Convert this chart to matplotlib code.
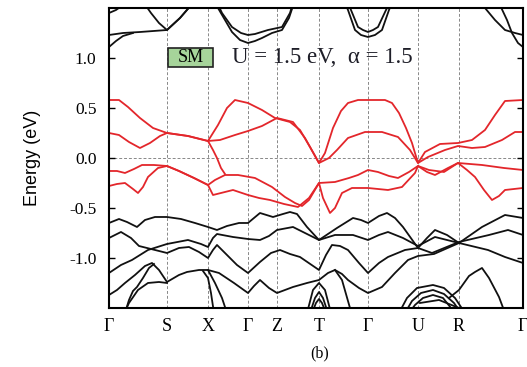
import matplotlib
matplotlib.use("Agg")
import matplotlib.pyplot as plt
from matplotlib.patches import Rectangle

plt.rcParams['axes.unicode_minus'] = False

# high-symmetry points along the k-path (path length, arbitrary units)
K_TICKS = [0, 58, 99, 139, 168, 210, 259, 309, 350, 414]
K_LABELS = ['Γ', 'S', 'X', 'Γ', 'Z', 'T', 'Γ', 'U', 'R', 'Γ']

# bands near the Fermi level (red) as (k, E[eV])
RED_1 = [(0, 0.58), (10, 0.58), (19, 0.51), (31, 0.40), (44, 0.30), (58, 0.25),
         (79, 0.22), (99, 0.17), (109, 0.33), (118, 0.50), (126, 0.58), (139, 0.55),
         (153, 0.48), (166, 0.40), (181, 0.36), (191, 0.28), (201, 0.11), (210, -0.05),
         (216, 0.05), (224, 0.30), (232, 0.47), (239, 0.55), (249, 0.58), (276, 0.58),
         (283, 0.55), (290, 0.45), (297, 0.30), (303, 0.15), (309, -0.05), (316, 0.06),
         (331, 0.14), (349, 0.15), (363, 0.18), (376, 0.28), (386, 0.43), (396, 0.57),
         (414, 0.58)]
RED_2 = [(0, 0.25), (10, 0.23), (20, 0.16), (31, 0.10), (41, 0.15), (51, 0.22), (58, 0.25),
         (79, 0.22), (99, 0.17), (111, 0.18), (126, 0.23), (139, 0.27), (153, 0.32),
         (168, 0.40), (184, 0.36), (196, 0.20), (210, -0.05), (220, 0.0), (228, 0.08),
         (239, 0.20), (256, 0.26), (273, 0.26), (289, 0.21), (301, 0.08), (309, -0.05),
         (319, 0.01), (336, 0.08), (349, 0.12), (363, 0.10), (376, 0.11), (393, 0.18),
         (406, 0.26), (414, 0.26)]
RED_3 = [(0, -0.13), (8, -0.13), (16, -0.15), (25, -0.11), (33, -0.07), (45, -0.07),
         (58, -0.08), (70, -0.13), (85, -0.20), (99, -0.27), (104, -0.37), (112, -0.35),
         (124, -0.32), (139, -0.37), (150, -0.40), (161, -0.42), (175, -0.46), (189, -0.49),
         (200, -0.40), (210, -0.25), (226, -0.24), (240, -0.20), (249, -0.17), (259, -0.12),
         (269, -0.14), (280, -0.18), (289, -0.20), (300, -0.14), (309, -0.08), (318, -0.14),
         (326, -0.17), (339, -0.10), (349, -0.05), (373, -0.07), (395, -0.10), (414, -0.12)]
RED_4 = [(0, -0.28), (8, -0.26), (16, -0.25), (24, -0.31), (29, -0.35), (34, -0.29),
         (39, -0.19), (49, -0.10), (58, -0.08), (70, -0.13), (85, -0.20), (99, -0.27),
         (106, -0.22), (116, -0.17), (129, -0.17), (146, -0.20), (163, -0.29), (176, -0.39),
         (186, -0.45), (193, -0.48), (200, -0.42), (210, -0.25), (214, -0.40), (221, -0.55),
         (226, -0.50), (233, -0.35), (243, -0.30), (259, -0.30), (279, -0.32), (293, -0.29),
         (306, -0.15), (309, -0.08), (320, -0.12), (335, -0.14), (349, -0.05), (358, -0.12),
         (366, -0.19), (375, -0.32), (383, -0.42), (390, -0.38), (396, -0.32), (414, -0.30)]
RED_5 = [(99, 0.17), (104, 0.08), (108, 0.0), (112, -0.10), (116, -0.16)]

# conduction bands (black, top)
CB_1 = [(0, 1.23), (14, 1.25), (31, 1.26), (58, 1.28), (71, 1.40), (84, 1.55)]
CB_2 = [(0, 1.11), (7, 1.17), (14, 1.22), (24, 1.25)]
CB_3 = [(35, 1.55), (42, 1.45), (50, 1.35), (58, 1.28), (71, 1.40), (84, 1.55)]
CB_4 = [(0, 1.45), (7, 1.48), (14, 1.53)]
CB_5 = [(100, 1.62), (109, 1.50), (116, 1.38), (123, 1.26), (131, 1.18), (139, 1.15),
        (146, 1.17), (153, 1.20), (163, 1.25), (173, 1.28), (180, 1.40), (185, 1.55)]
CB_6 = [(105, 1.62), (113, 1.45), (123, 1.31), (132, 1.25), (139, 1.23), (146, 1.24),
        (159, 1.28), (173, 1.31), (181, 1.45), (186, 1.62)]
CB_7 = [(236, 1.55), (239, 1.48), (246, 1.28), (252, 1.23), (259, 1.21), (266, 1.23),
        (273, 1.28), (280, 1.48), (283, 1.55)]
CB_8 = [(239, 1.55), (242, 1.48), (249, 1.31), (254, 1.28), (259, 1.26), (264, 1.28),
        (269, 1.31), (277, 1.48), (281, 1.55)]
CB_9 = [(252, 1.55), (259, 1.50), (266, 1.55)]
CB_10 = [(370, 1.55), (376, 1.50), (386, 1.38), (396, 1.28), (406, 1.25), (414, 1.23)]
CB_11 = [(390, 1.55), (398, 1.38), (403, 1.25), (409, 1.15), (414, 1.11)]

# valence bands (black, bottom)
VB_1 = [(0, -0.65), (10, -0.61), (18, -0.64), (28, -0.69), (36, -0.62), (46, -0.59),
        (58, -0.59), (72, -0.61), (86, -0.65), (99, -0.69), (108, -0.72), (118, -0.68),
        (130, -0.65), (139, -0.65), (151, -0.55), (164, -0.59), (174, -0.56), (181, -0.54),
        (188, -0.56), (198, -0.69), (210, -0.82), (228, -0.70), (244, -0.60), (252, -0.62),
        (259, -0.65), (270, -0.58), (278, -0.55), (286, -0.60), (294, -0.69), (309, -0.90),
        (318, -0.80), (326, -0.72), (338, -0.77), (350, -0.85), (373, -0.69), (396, -0.57),
        (414, -0.60)]
VB_2 = [(0, -0.80), (12, -0.74), (22, -0.80), (30, -0.88), (42, -0.91), (58, -0.95),
        (70, -0.90), (80, -0.89), (90, -0.94), (99, -1.00), (104, -0.92), (108, -0.87),
        (116, -0.95), (128, -1.07), (139, -1.15), (151, -1.04), (162, -0.95), (171, -0.92),
        (181, -0.96), (191, -0.99), (210, -1.12), (217, -0.97), (223, -0.87), (231, -0.88),
        (239, -0.92), (250, -1.05), (259, -1.15), (270, -1.05), (279, -0.99), (296, -0.92),
        (309, -0.90), (323, -0.95), (350, -0.84), (380, -0.77), (399, -0.72), (414, -0.77)]
VB_3 = [(0, -1.15), (12, -1.07), (23, -1.02), (39, -0.92), (58, -0.86), (79, -0.82),
        (92, -0.86), (99, -0.89), (104, -0.80), (108, -0.76), (124, -0.79), (139, -0.81),
        (151, -0.82), (160, -0.78), (168, -0.72), (184, -0.69), (198, -0.76), (210, -0.82),
        (226, -0.77), (244, -0.77), (259, -0.82), (270, -0.77), (279, -0.74), (294, -0.80),
        (309, -0.88), (326, -0.79), (350, -0.85), (379, -0.92), (396, -0.99), (414, -1.05)]
VB_4 = [(0, -1.37), (8, -1.32), (16, -1.25), (26, -1.17), (36, -1.08), (43, -1.05),
        (50, -1.12), (58, -1.24), (70, -1.17), (78, -1.14), (90, -1.12), (99, -1.12),
        (110, -1.15), (125, -1.25), (139, -1.35), (145, -1.28), (151, -1.22), (160, -1.30),
        (168, -1.35), (184, -1.29), (198, -1.25), (210, -1.22), (219, -1.15), (226, -1.12),
        (233, -1.16), (239, -1.22), (250, -1.30), (259, -1.35), (273, -1.29), (286, -1.15),
        (299, -1.02), (309, -0.98), (325, -0.96), (350, -0.85)]

# deeper bands leaving the window at the bottom
LB_1 = [(16, -1.55), (20, -1.42), (24, -1.33), (28, -1.29), (34, -1.20), (40, -1.10),
        (45, -1.06)]
LB_2 = [(14, -1.58), (20, -1.45), (29, -1.32), (39, -1.25), (50, -1.24), (58, -1.25)]
LB_3 = [(94, -1.13), (99, -1.20), (102, -1.35), (105, -1.55)]
LB_4 = [(99, -1.12), (106, -1.25), (113, -1.40), (118, -1.55)]
LB_5 = [(198, -1.55), (204, -1.32), (210, -1.25), (216, -1.32), (222, -1.55)]
LB_6 = [(201, -1.55), (206, -1.40), (210, -1.34), (214, -1.40), (219, -1.55)]
LB_7 = [(203, -1.55), (207, -1.45), (210, -1.41), (213, -1.45), (217, -1.55)]
LB_8 = [(226, -1.12), (233, -1.22), (241, -1.50), (243, -1.55)]
LB_9 = [(290, -1.55), (298, -1.40), (308, -1.30), (324, -1.27), (335, -1.30), (346, -1.40),
        (356, -1.55)]
LB_10 = [(296, -1.55), (303, -1.43), (312, -1.35), (324, -1.32), (335, -1.36), (345, -1.45),
         (352, -1.55)]
LB_11 = [(300, -1.55), (306, -1.47), (314, -1.40), (324, -1.37), (334, -1.40), (342, -1.50),
         (346, -1.55)]
LB_12 = [(340, -1.40), (350, -1.32), (360, -1.18), (366, -1.14), (373, -1.10), (380, -1.20),
         (390, -1.39), (396, -1.55)]
LB_13 = [(311, -1.45), (330, -1.42), (350, -1.50), (355, -1.55)]

RED = [RED_1, RED_2, RED_3, RED_4, RED_5]
BLACK = [CB_1, CB_2, CB_3, CB_4, CB_5, CB_6, CB_7, CB_8, CB_9, CB_10, CB_11,
         VB_1, VB_2, VB_3, VB_4,
         LB_1, LB_2, LB_3, LB_4, LB_5, LB_6, LB_7, LB_8, LB_9, LB_10, LB_11, LB_12, LB_13]

fig = plt.figure(figsize=(5.27, 3.67), dpi=100)
ax = fig.add_axes([0.2068, 0.1608, 0.7856, 0.8174])

for band in BLACK:
    k, e = zip(*band)
    ax.plot(k, e, color='#111111', lw=1.3, solid_joinstyle='round')
for band in RED:
    k, e = zip(*band)
    ax.plot(k, e, color='#e3262b', lw=1.3, solid_joinstyle='round')

for kt in K_TICKS[1:-1]:
    ax.axvline(kt, color='#888888', ls=(0, (3, 2)), lw=0.7, zorder=0)
ax.axhline(0, color='#888888', ls=(0, (3, 2)), lw=0.7, zorder=0)

ax.set_xlim(K_TICKS[0], K_TICKS[-1])
ax.set_ylim(-1.5, 1.5)
ax.set_xticks(K_TICKS)
ax.set_xticklabels(K_LABELS, family='Liberation Serif', fontsize=13)
ax.set_yticks([-1.0, -0.5, 0.0, 0.5, 1.0])
ax.set_yticklabels(['-1.0', '-0.5', '0.0', '0.5', '1.0'], family='Liberation Serif',
                   fontsize=12.5)
ax.tick_params(axis='x', length=0, pad=7)
ax.tick_params(axis='y', direction='in', length=4, width=1, right=True, pad=9)
for sp in ax.spines.values():
    sp.set_linewidth(1.5)

ax.set_ylabel('Energy (eV)', family='Liberation Sans', fontsize=13, labelpad=20)

# phase tag and parameters
ax.add_patch(Rectangle((0.1425, 0.803), 0.1087, 0.064, transform=ax.transAxes,
                       fc='#a6d49a', ec='#222222', lw=1.2, zorder=5))
ax.text(0.197, 0.836, 'SM', transform=ax.transAxes, family='Liberation Serif',
        fontsize=13, ha='center', va='center', zorder=6)
ax.text(0.297, 0.836, 'U = 1.5 eV,  α = 1.5', transform=ax.transAxes,
        family='Liberation Serif', fontsize=16.5, ha='left', va='center', color='#1e1e28')

fig.text(0.607, 0.038, '(b)', family='Liberation Serif', fontsize=11.5, ha='center',
         va='center')

fig.savefig('out.png', dpi=100)
